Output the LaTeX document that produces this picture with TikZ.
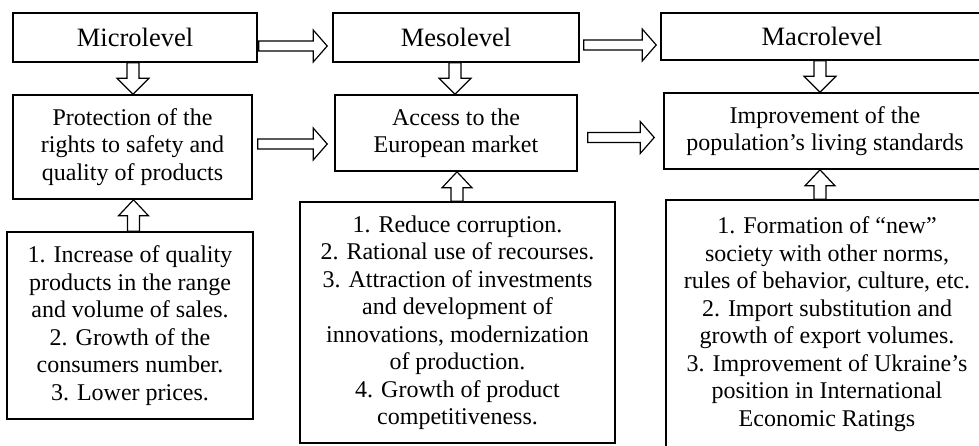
\documentclass[tikz,border=0pt]{standalone}
\usepackage{fontspec}
\setmainfont{Liberation Serif}
\usetikzlibrary{calc}
\tikzset{
  box/.style={draw, line width=1.6pt, rectangle, inner sep=0pt, align=center,
    font=\fontsize{24}{27.5}\selectfont},
  lvl/.style={box, font=\fontsize{26.5}{30}\selectfont},
  barrow/.style={draw, fill=white, line width=1.2pt, line join=miter},
}
% right block arrow: from node #1 to node #2 at height of coordinate #3, gaps #4, #5
\newcommand\rarr[5]{%
  \draw[barrow] let \p1=(#1.east), \p2=(#2.west), \p3=(#3) in
   (\x1+#4,\y3+5pt) -- (\x2-#5-14pt,\y3+5pt) -- (\x2-#5-14pt,\y3+16pt) -- (\x2-#5,\y3)
   -- (\x2-#5-14pt,\y3-16pt) -- (\x2-#5-14pt,\y3-5pt) -- (\x1+#4,\y3-5pt) -- cycle;}
% down block arrow from node #1 to node #2, x shift #3
\newcommand\darr[3]{%
  \draw[barrow] let \p1=(#1.south), \p2=(#2.north) in
   (\x1+#3-6pt,\y1) -- (\x1+#3-6pt,\y2+16pt) -- (\x1+#3-16pt,\y2+16pt) -- (\x1+#3,\y2)
   -- (\x1+#3+16pt,\y2+16pt) -- (\x1+#3+6pt,\y2+16pt) -- (\x1+#3+6pt,\y1) -- cycle;}
% up block arrow from node #1 (below) to node #2 (above), x shift #3
\newcommand\uarr[3]{%
  \draw[barrow] let \p1=(#1.north), \p2=(#2.south) in
   (\x2+#3-6pt,\y1) -- (\x2+#3-6pt,\y2-16pt) -- (\x2+#3-15pt,\y2-16pt) -- (\x2+#3,\y2)
   -- (\x2+#3+15pt,\y2-16pt) -- (\x2+#3+6pt,\y2-16pt) -- (\x2+#3+6pt,\y1) -- cycle;}
\begin{document}
\begin{tikzpicture}[x=1pt,y=-1pt]
\useasboundingbox (0,0) rectangle (979,445);
\fill[white] (0,0) rectangle (979,445);
\clip (0,0) rectangle (979,445);

% top level
\node[lvl, minimum width=244pt, minimum height=49pt] (mic) at (135,37.5) {Microlevel};
\node[lvl, minimum width=246pt, minimum height=49pt] (mes) at (456,37.5) {Mesolevel};
\node[lvl, minimum width=322pt, minimum height=47pt] (mac) at (822,36.5) {Macrolevel};

% second row
\node[box, minimum width=239pt, minimum height=104pt] (pro) at (132.5,147)
  {Protection of the\\rights to safety and\\quality of products};
\node[box, minimum width=242pt, minimum height=76pt] (acc) at (456,133)
  {Access to the\\European market};
\node[box, minimum width=322pt, minimum height=76pt] (imp) at (825,131)
  {Improvement of the\\population’s living standards};

% bottom row
\node[box, minimum width=246pt, minimum height=187pt] (fl) at (130,325.5)
  {1. Increase of quality\\products in the range\\and volume of sales.\\2. Growth of the\\consumers number.\\3. Lower prices.};
\node[box, minimum width=315pt, minimum height=241pt] (fm) at (457.5,322.5)
  {1. Reduce corruption.\\2. Rational use of recourses.\\3. Attraction of investments\\and development of\\innovations, modernization\\of production.\\4. Growth of product\\competitiveness.};
\node[box, minimum width=322pt, minimum height=248pt] (fr) at (827,324)
  {1. Formation of “new”\\society with other norms,\\rules of behavior, culture, etc.\\2. Import substitution and\\growth of export volumes.\\3. Improvement of Ukraine’s\\position in International\\Economic Ratings};

% horizontal levels for arrows
\coordinate (y1) at (0,46);
\coordinate (y2) at (0,45);
\coordinate (y3) at (0,144);
\coordinate (y4) at (0,137.5);

\rarr{mic}{mes}{y1}{1pt}{5pt}
\rarr{mes}{mac}{y2}{4pt}{4pt}
\rarr{pro}{acc}{y3}{5pt}{7pt}
\rarr{acc}{imp}{y4}{10pt}{9pt}

\darr{mic}{pro}{-2pt}
\darr{mes}{acc}{-1pt}
\darr{mac}{imp}{-2pt}

\uarr{fl}{pro}{1pt}
\uarr{fm}{acc}{1pt}
\uarr{fr}{imp}{-5pt}
\end{tikzpicture}
\end{document}
